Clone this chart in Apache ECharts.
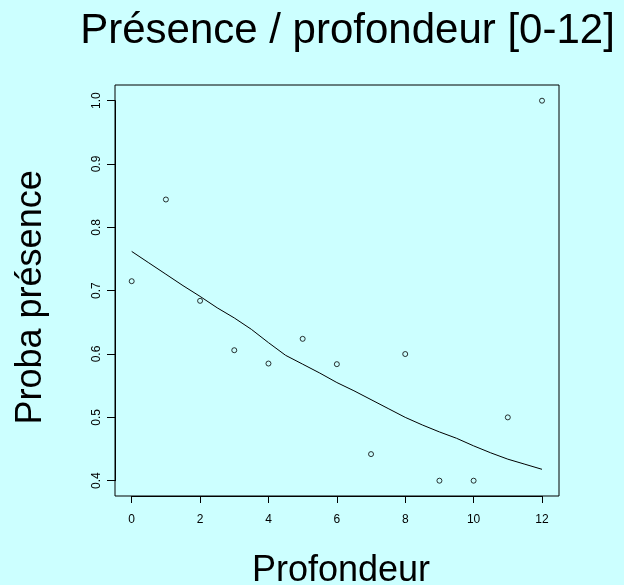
<!DOCTYPE html>
<html>
<head>
<meta charset="utf-8">
<script src="https://cdn.jsdelivr.net/npm/echarts@6/dist/echarts.min.js"></script>
<style>
html,body{margin:0;padding:0;background:#CCFFFF;}
#chart{width:624px;height:585px;}
</style>
</head>
<body>
<div id="chart"></div>
<script>
// Observed points
const depth = [0, 1, 2, 3, 4, 5, 6, 7, 8, 9, 10, 11, 12];
const presence = [0.715, 0.844, 0.684, 0.606, 0.585, 0.624, 0.584, 0.442, 0.600, 0.400, 0.400, 0.500, 1.000];
// Smoothed curve
const curveX = [0, 0.5, 1, 1.5, 2, 2.5, 3, 3.5, 4, 4.5, 5, 5.5, 6, 6.5, 7, 7.5, 8, 8.5, 9, 9.5, 10, 10.5, 11, 11.5, 12];
const curveY = [0.762, 0.744, 0.726, 0.708, 0.691, 0.673, 0.657, 0.639, 0.618, 0.598, 0.584, 0.570, 0.555, 0.542, 0.528, 0.514, 0.500, 0.488, 0.477, 0.467, 0.455, 0.444, 0.434, 0.426, 0.418];
// Axis ticks
const xTicks = [0, 2, 4, 6, 8, 10, 12];
const yTicks = [0.4, 0.5, 0.6, 0.7, 0.8, 0.9, 1.0];

const titleText = 'Présence / profondeur [0-12]';
const xTitle = 'Profondeur';
const yTitle = 'Proba présence';

const chart = echarts.init(document.getElementById('chart'), null, {renderer: 'canvas'});
const FONT = '"Liberation Sans", Arial, Helvetica, sans-serif';

const option = {
  backgroundColor: '#CCFFFF',
  animation: false,
  grid: [
    {left: 115, top: 85, right: 65, bottom: 89, show: true, borderColor: '#000', borderWidth: 1, backgroundColor: 'transparent'},
    {left: 131.7, top: 100.7, right: 82, bottom: 104.3}
  ],
  xAxis: [
    {gridIndex: 0, type: 'value', show: false, min: 0, max: 1},
    {
      gridIndex: 1, type: 'value', min: xTicks[0], max: xTicks[xTicks.length - 1], interval: 2,
      offset: 15.3,
      axisLine: {show: true, onZero: false, lineStyle: {color: '#000', width: 1}},
      axisTick: {show: true, length: 7, lineStyle: {color: '#000', width: 1}},
      axisLabel: {show: true, margin: 18, color: '#000', fontSize: 12, fontFamily: FONT},
      splitLine: {show: false}
    }
  ],
  yAxis: [
    {gridIndex: 0, type: 'value', show: false, min: 0, max: 1},
    {
      gridIndex: 1, type: 'value', min: yTicks[0], max: yTicks[yTicks.length - 1], interval: 0.1,
      offset: 16.7,
      axisLine: {show: true, onZero: false, lineStyle: {color: '#000', width: 1}},
      axisTick: {show: true, length: 8, lineStyle: {color: '#000', width: 1}},
      axisLabel: {show: true, rotate: 90, margin: 12, color: '#000', fontSize: 12, fontFamily: FONT,
        formatter: v => Number(v).toFixed(1)},
      splitLine: {show: false}
    }
  ],
  series: [
    {
      type: 'line', xAxisIndex: 1, yAxisIndex: 1,
      data: curveX.map((x, i) => [x, curveY[i]]),
      showSymbol: false, symbol: 'none', smooth: false, clip: false,
      lineStyle: {color: '#000', width: 1}
    },
    {
      type: 'scatter', xAxisIndex: 1, yAxisIndex: 1,
      data: depth.map((x, i) => [x, presence[i]]),
      symbol: 'circle', symbolSize: 5, clip: false,
      itemStyle: {color: 'rgba(0,0,0,0)', borderColor: '#000', borderWidth: 1}
    }
  ],
  graphic: [
    {type: 'text', x: 347.5, y: 31, style: {text: titleText, font: '42px ' + FONT, fill: '#000', textAlign: 'center', textVerticalAlign: 'middle'}},
    {type: 'text', x: 341, y: 571.4, style: {text: xTitle, font: '36px ' + FONT, fill: '#000', textAlign: 'center', textVerticalAlign: 'middle'}},
    {type: 'text', x: 31, y: 297.4, rotation: Math.PI / 2, style: {text: yTitle, font: '36px ' + FONT, fill: '#000', textAlign: 'center', textVerticalAlign: 'middle'}}
  ]
};
chart.setOption(option);
</script>
</body>
</html>
